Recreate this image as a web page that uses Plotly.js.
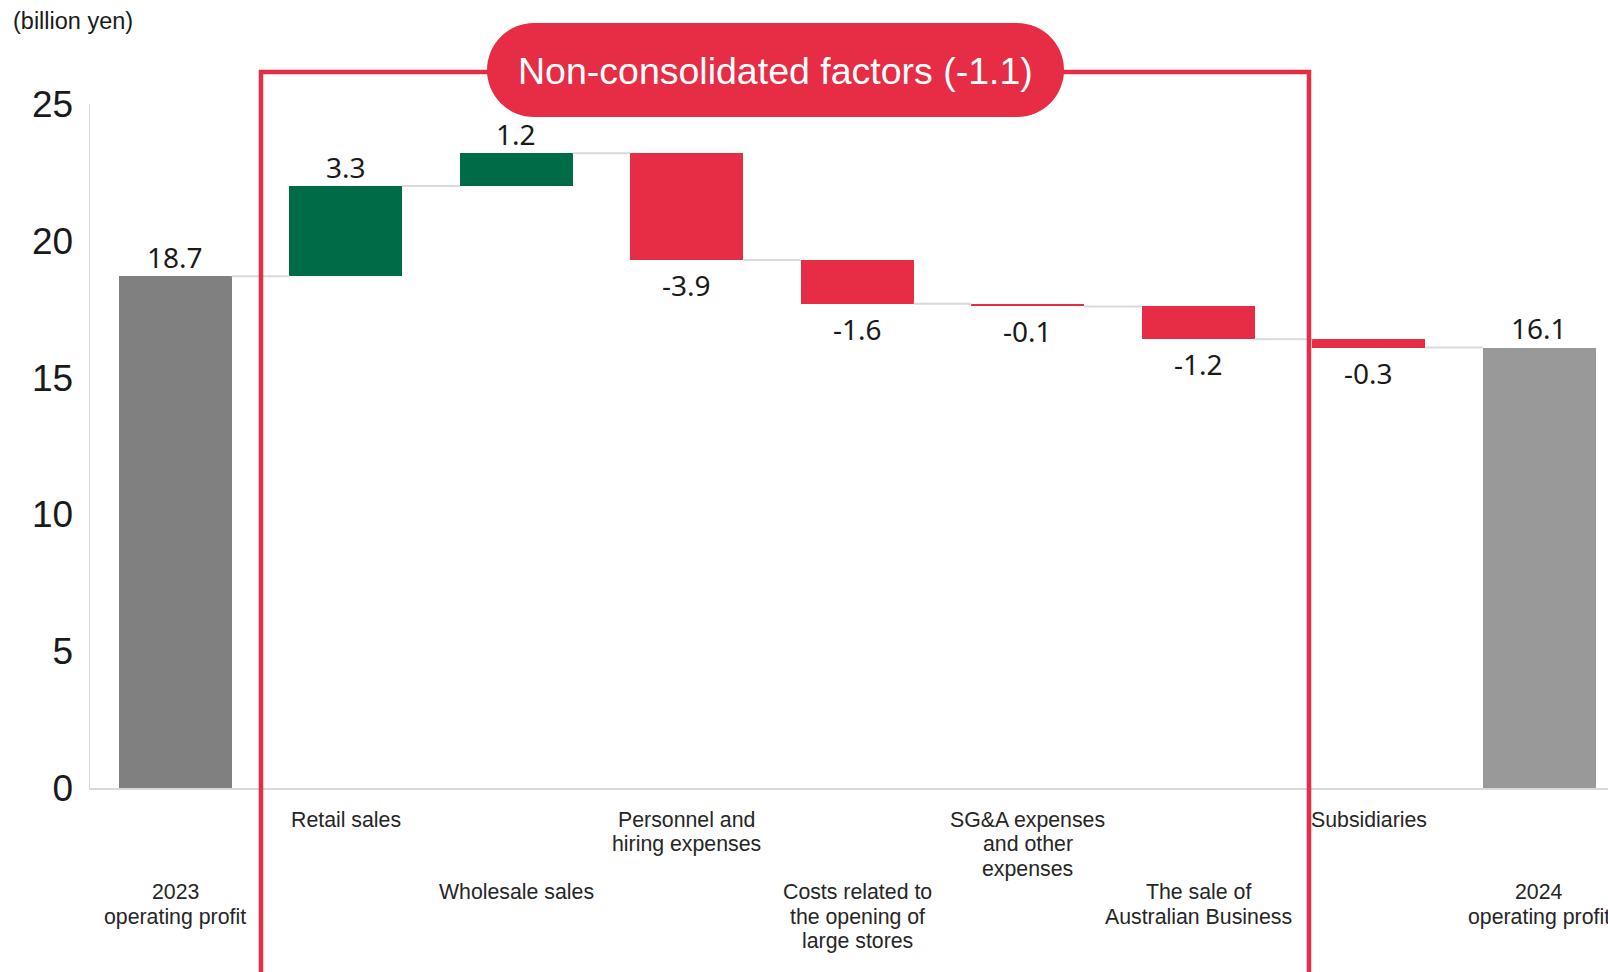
<!DOCTYPE html>
<html>
<head>
<meta charset="utf-8">
<script src="https://cdn.plot.ly/plotly-3.0.1.min.js"></script>
<style>
  html, body { margin: 0; padding: 0; background: #ffffff; overflow: hidden; }
  #chart { width: 1608px; height: 972px; }
</style>
</head>
<body>
<div id="chart"></div>
<script>
// ---------------- data ----------------
const categories = [
  '2023<br>operating profit',
  'Retail sales',
  'Wholesale sales',
  'Personnel and<br>hiring expenses',
  'Costs related to<br>the opening of<br>large stores',
  'SG&A expenses<br>and other<br>expenses',
  'The sale of<br>Australian Business',
  'Subsidiaries',
  '2024<br>operating profit'
];
const values = [18.7, 3.3, 1.2, -3.9, -1.6, -0.1, -1.2, -0.3, 16.1];
const measures = ['total', 'relative', 'relative', 'relative', 'relative', 'relative', 'relative', 'relative', 'total'];
const valueLabels = ['18.7', '3.3', '1.2', '-3.9', '-1.6', '-0.1', '-1.2', '-0.3', '16.1'];
const yTickValues = [0, 5, 10, 15, 20, 25];
const unitLabel = '(billion yen)';
const groupLabel = 'Non-consolidated factors (-1.1)';

// ---------------- layout geometry (pixels) ----------------
const FIG_W = 1608, FIG_H = 972;
const M = { l: 90, r: 0, t: 104, b: 184 };
const PW = FIG_W - M.l - M.r;
const PH = FIG_H - M.t - M.b;
const CAT_STEP = 170.5;          // pixels per category
const BAR_W = 0.662;             // bar width in category units
const RED = '#E62D45';
const GREEN = '#006B47';

const xRange = [-0.5, -0.5 + PW / CAT_STEP];
const paperX = px => (px - M.l) / PW;
const paperY = py => (M.t + PH - py) / PH;

// ---------------- derived waterfall geometry ----------------
const bases = [], heights = [], colors = [], ends = [];
let running = 0;
values.forEach((v, i) => {
  if (measures[i] === 'total') {
    bases.push(0); heights.push(v); running = v;
    colors.push(i === 0 ? '#808080' : '#999999');
  } else {
    bases.push(running); heights.push(v); running += v;
    colors.push(v >= 0 ? GREEN : RED);
  }
  ends.push(running);
});
const xs = categories.map((_, i) => i);

const connX = [], connY = [];
for (let i = 0; i < values.length - 1; i++) {
  connX.push(i + BAR_W / 2, i + 1 - BAR_W / 2, null);
  connY.push(ends[i], ends[i], null);
}

const bars = {
  type: 'bar',
  x: xs,
  y: heights,
  base: bases,
  width: BAR_W,
  marker: { color: colors, line: { width: 0 } },
  hoverinfo: 'skip',
  showlegend: false
};
const connectors = {
  type: 'scatter',
  mode: 'lines',
  x: connX,
  y: connY,
  line: { color: '#d9d9d9', width: 2 },
  hoverinfo: 'skip',
  showlegend: false
};

// ---------------- annotations ----------------
const annotations = [];
// value labels
values.forEach((v, i) => {
  const top = Math.max(bases[i], bases[i] + heights[i]);
  const bottom = Math.min(bases[i], bases[i] + heights[i]);
  const positive = measures[i] === 'total' || v >= 0;
  annotations.push({
    x: i, xref: 'x',
    y: positive ? top : bottom, yref: 'y',
    yanchor: 'middle', xanchor: 'center',
    yshift: positive ? 19.5 : -25,
    text: valueLabels[i],
    showarrow: false,
    font: { family: 'Noto Sans, Open Sans, sans-serif', size: 28, color: '#1a1a1a' }
  });
});
// category labels (staggered in two rows)
const LINE_STEP = 24.7;
categories.forEach((c, i) => {
  const firstLineY = (i % 2 === 1) ? 819.5 : 892;
  c.split('<br>').forEach((line, k) => {
    annotations.push({
      x: i, xref: 'x',
      y: paperY(firstLineY + k * LINE_STEP), yref: 'paper',
      yanchor: 'middle', xanchor: 'center',
      text: line,
      showarrow: false,
      font: { family: 'Liberation Sans, Arial, sans-serif', size: 21.3, color: '#262626' }
    });
  });
});
// unit label
annotations.push({
  x: paperX(11), xref: 'paper', xanchor: 'left',
  y: paperY(21), yref: 'paper', yanchor: 'middle',
  text: unitLabel, showarrow: false,
  font: { family: 'Liberation Sans, Arial, sans-serif', size: 23.5, color: '#1a1a1a' }
});
// group label (inside pill)
const PILL = { x0: 487, x1: 1064, y0: 23, y1: 117 };
const PILL_R = (PILL.y1 - PILL.y0) / 2;
annotations.push({
  x: paperX((PILL.x0 + PILL.x1) / 2), xref: 'paper', xanchor: 'center',
  y: paperY((PILL.y0 + PILL.y1) / 2 + 1), yref: 'paper', yanchor: 'middle',
  text: groupLabel, showarrow: false,
  font: { family: 'Liberation Sans, Arial, sans-serif', size: 37.5, color: '#ffffff' }
});

// ---------------- shapes ----------------
const BOX = { x0: 261, x1: 1309, y0: 72, y1: 976 };
const shapes = [
  {
    type: 'rect', xref: 'paper', yref: 'paper',
    x0: paperX(BOX.x0), x1: paperX(BOX.x1),
    y0: paperY(BOX.y1), y1: paperY(BOX.y0),
    line: { color: RED, width: 4.5 },
    fillcolor: 'rgba(0,0,0,0)', layer: 'above'
  },
  {
    type: 'rect', xref: 'paper', yref: 'paper',
    x0: paperX(PILL.x0 + PILL_R), x1: paperX(PILL.x1 - PILL_R),
    y0: paperY(PILL.y1), y1: paperY(PILL.y0),
    line: { width: 0 }, fillcolor: RED, layer: 'above'
  },
  {
    type: 'circle', xref: 'paper', yref: 'paper',
    x0: paperX(PILL.x0), x1: paperX(PILL.x0 + 2 * PILL_R),
    y0: paperY(PILL.y1), y1: paperY(PILL.y0),
    line: { width: 0 }, fillcolor: RED, layer: 'above'
  },
  {
    type: 'circle', xref: 'paper', yref: 'paper',
    x0: paperX(PILL.x1 - 2 * PILL_R), x1: paperX(PILL.x1),
    y0: paperY(PILL.y1), y1: paperY(PILL.y0),
    line: { width: 0 }, fillcolor: RED, layer: 'above'
  }
];

const layout = {
  width: FIG_W,
  height: FIG_H,
  margin: M,
  paper_bgcolor: '#ffffff',
  plot_bgcolor: '#ffffff',
  showlegend: false,
  xaxis: {
    type: 'linear',
    range: xRange,
    showgrid: false,
    zeroline: false,
    showticklabels: false,
    ticks: '',
    showline: true,
    linecolor: '#d9d9d9',
    linewidth: 2,
    automargin: false,
    fixedrange: true
  },
  yaxis: {
    range: [0, 25],
    tickvals: yTickValues,
    ticktext: yTickValues.map(String),
    showgrid: false,
    zeroline: false,
    ticks: '',
    ticklabelstandoff: 8,
    showline: true,
    linecolor: '#d9d9d9',
    linewidth: 1.5,
    tickfont: { family: 'Liberation Sans, Arial, sans-serif', size: 37, color: '#1a1a1a' },
    automargin: false,
    fixedrange: true
  },
  annotations: annotations,
  shapes: shapes,
  bargap: 0
};

Plotly.newPlot('chart', [bars, connectors], layout, { displayModeBar: false, staticPlot: true });
</script>
</body>
</html>
